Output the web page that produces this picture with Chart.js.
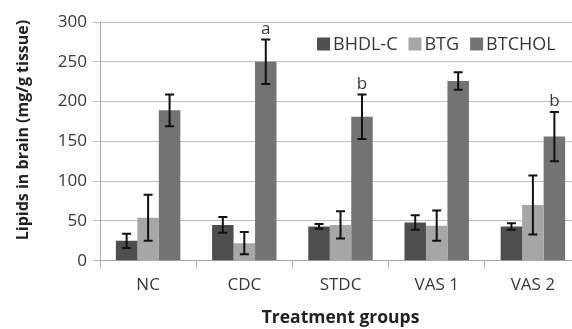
<!DOCTYPE html>
<html>
<head>
<meta charset="utf-8">
<script src="https://cdn.jsdelivr.net/npm/chart.js@4/dist/chart.umd.min.js"></script>
<style>
  html, body { margin: 0; padding: 0; background: #fff; overflow: hidden; }
  #wrap { width: 572px; height: 329px; overflow: hidden; }
  canvas { display: block; }
</style>
</head>
<body>
<div id="wrap"><canvas id="c" width="600" height="329"></canvas></div>
<script>
const categories = ['NC', 'CDC', 'STDC', 'VAS 1', 'VAS 2'];
const seriesNames = ['BHDL-C', 'BTG', 'BTCHOL'];
const bhdlc = [25, 45, 43, 48, 43];
const bhdlcErr = [9, 10, 3, 9, 4];
const btg = [54, 22, 45, 44, 70];
const btgErr = [29, 14, 17, 19, 37];
const btchol = [189, 250, 181, 226, 156];
const btcholErr = [20, 28, 28, 11, 31];
const btcholMarks = ['', 'a', 'b', '', 'b'];
const yTicks = [0, 50, 100, 150, 200, 250, 300];

const colors = ['#4e4e4e', '#a6a6a6', '#737373'];
const errors = [bhdlcErr, btgErr, btcholErr];
const marks = [null, null, btcholMarks];
const FONT = "'Open Sans', sans-serif";
const TEXT = '#383838';

// Error bars with caps, plus significance letters above them
const errorBars = {
  id: 'errorBars',
  afterDatasetsDraw(chart) {
    const ctx = chart.ctx;
    const y = chart.scales.y;
    chart.data.datasets.forEach((ds, di) => {
      const meta = chart.getDatasetMeta(di);
      meta.data.forEach((bar, i) => {
        const v = ds.data[i], e = errors[di][i];
        const top = y.getPixelForValue(v + e);
        const bot = y.getPixelForValue(v - e);
        const x = bar.x;
        ctx.save();
        ctx.strokeStyle = '#111';
        ctx.lineWidth = 2;
        ctx.beginPath();
        ctx.moveTo(x, top); ctx.lineTo(x, bot);
        ctx.moveTo(x - 4.5, top); ctx.lineTo(x + 4.5, top);
        ctx.moveTo(x - 4.5, bot); ctx.lineTo(x + 4.5, bot);
        ctx.stroke();
        const m = marks[di] && marks[di][i];
        if (m) {
          ctx.fillStyle = TEXT;
          ctx.font = '17px ' + FONT;
          ctx.textAlign = 'center';
          ctx.textBaseline = 'bottom';
          ctx.fillText(m, x, top - 2);
        }
        ctx.restore();
      });
    });
  }
};

// Legend row and rotated y-axis title
const annotations = {
  id: 'annotations',
  afterDraw(chart) {
    const ctx = chart.ctx;
    ctx.save();
    ctx.font = '18px ' + FONT;
    ctx.textBaseline = 'middle';
    ctx.textAlign = 'left';
    let x = 317;
    const cy = 44;
    seriesNames.forEach((name, i) => {
      ctx.fillStyle = colors[i];
      ctx.fillRect(x, cy - 6.5, 13, 13);
      ctx.fillStyle = TEXT;
      ctx.fillText(name, x + 16, cy + 1);
      x += 16 + ctx.measureText(name).width + 11;
    });
    ctx.translate(23, 130);
    ctx.rotate(-Math.PI / 2);
    ctx.font = 'bold 16px ' + FONT;
    ctx.textAlign = 'center';
    ctx.fillStyle = '#222';
    ctx.fillText('Lipids in brain (mg/g tissue)', 0, 0);
    ctx.restore();
  }
};

const data = {
  labels: categories,
  datasets: [bhdlc, btg, btchol].map((vals, i) => ({
    label: seriesNames[i],
    data: vals,
    backgroundColor: colors[i],
    borderWidth: 0,
    categoryPercentage: 0.67,
    barPercentage: 1.0
  }))
};

new Chart(document.getElementById('c'), {
  type: 'bar',
  data,
  options: {
    responsive: false,
    animation: false,
    events: [],
    layout: { padding: { top: 22, right: 19, left: 0, bottom: 0 } },
    plugins: { legend: { display: false }, tooltip: { enabled: false } },
    scales: {
      x: {
        grid: { drawOnChartArea: false, drawTicks: true, tickLength: 7, color: '#a8a8a8', offset: true },
        border: { color: '#a8a8a8', width: 1 },
        ticks: { font: { family: FONT, size: 17 }, color: TEXT, padding: 7 },
        title: { display: true, text: 'Treatment groups', font: { family: FONT, size: 17.5, weight: 'bold' }, color: '#222', padding: { top: 0, bottom: 0 } },
        afterFit(s) { s.height = 68.3; }
      },
      y: {
        min: 0, max: 300,
        afterBuildTicks(s) { s.ticks = yTicks.map(v => ({ value: v })); },
        grid: { color: '#bdbdbd', tickLength: 7, lineWidth: 1 },
        border: { color: '#a8a8a8', width: 1 },
        ticks: { font: { family: FONT, size: 17 }, color: TEXT, padding: 6 },
        afterFit(s) { s.width = 100; }
      }
    }
  },
  plugins: [errorBars, annotations]
});
</script>
</body>
</html>
